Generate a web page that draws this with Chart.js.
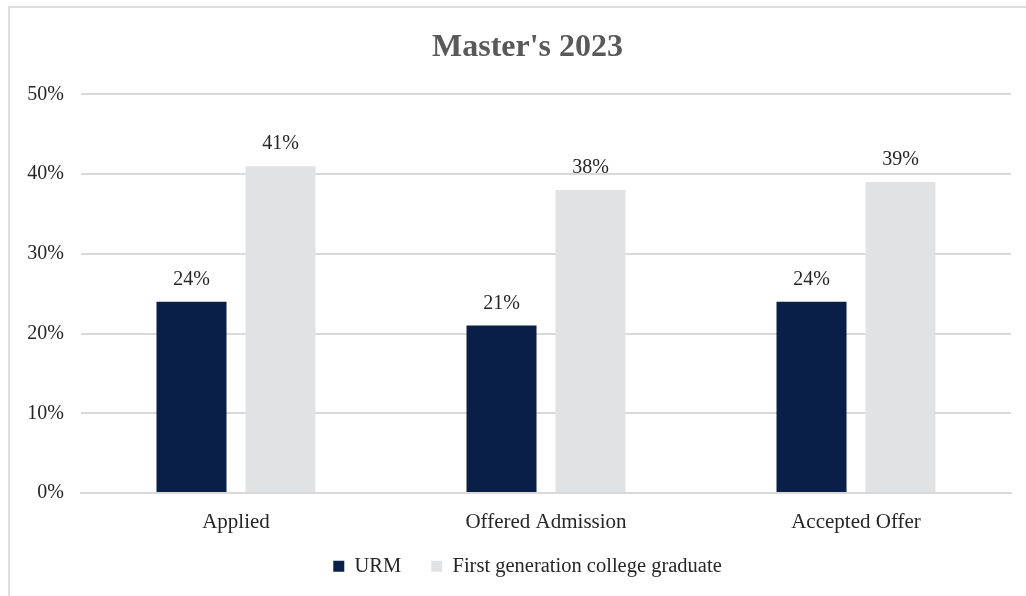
<!DOCTYPE html>
<html>
<head>
<meta charset="utf-8">
<script src="https://cdn.jsdelivr.net/npm/chart.js@4"></script>
<style>
  html, body { margin: 0; padding: 0; background: #fff; }
  #frame { position: absolute; left: 8px; top: 6px; width: 1030px; height: 600px; border: 2px solid #dedede; box-sizing: border-box; }
  #wrap { position: absolute; left: 0; top: 0; width: 1026px; height: 596px; }
</style>
</head>
<body>
<div id="frame"></div>
<div id="wrap"><canvas id="grafik" width="1026" height="596"></canvas></div>
<script>
// Kategoriler ve seriler
const kategoriler = ["Applied", "Offered Admission", "Accepted Offer"];
const urmDegerleri = [24, 21, 24];
const ilkNesilDegerleri = [41, 38, 39];
const yEksenTikleri = [0, 10, 20, 30, 40, 50];

const serifFont = "'Liberation Serif', 'DejaVu Serif', serif";

// Çubukların üstüne yüzde etiketi yazan küçük eklenti
const degerEtiketleri = {
  id: "degerEtiketleri",
  afterDatasetsDraw(chart) {
    const ctx = chart.ctx;
    ctx.save();
    ctx.font = "20px " + serifFont;
    ctx.fillStyle = "#262626";
    ctx.textAlign = "center";
    ctx.textBaseline = "middle";
    chart.data.datasets.forEach((ds, i) => {
      chart.getDatasetMeta(i).data.forEach((bar, j) => {
        ctx.fillText(ds.data[j] + "%", bar.x, bar.y - 22);
      });
    });
    ctx.restore();
  },
};

// Başlık ve lejantı biraz sağa al, lejant yüksekliğini sabitle
const yerlesim = {
  id: "yerlesim",
  beforeLayout(chart) {
    const lg = chart.legend;
    if (lg && !lg._sabitlendi) {
      const eskiFit = lg.fit;
      lg.fit = function () {
        eskiFit.call(this);
        if (this.isHorizontal()) this.height = 49;
      };
      lg._sabitlendi = true;
    }
  },
  afterLayout(chart) {
    const kayma = 22;
    [chart.titleBlock, chart.legend].forEach((b) => {
      if (!b) return;
      b.left += kayma;
      b.right += kayma;
    });
    if (chart.legend) {
      chart.legend.top -= 11;
    }
  },
};

new Chart(document.getElementById("grafik").getContext("2d"), {
  type: "bar",
  data: {
    labels: kategoriler,
    datasets: [
      {
        label: "URM",
        data: urmDegerleri,
        backgroundColor: "#0a1f47",
      },
      {
        label: "First generation college graduate",
        data: ilkNesilDegerleri,
        backgroundColor: "#e1e2e4",
      },
    ],
  },
  options: {
    responsive: false,
    animation: false,
    categoryPercentage: 0.574,
    barPercentage: 0.787,
    layout: { padding: { left: 0, right: 15, top: 0, bottom: 10 } },
    plugins: {
      title: {
        display: true,
        text: "Master's 2023",
        color: "#595959",
        font: { family: serifFont, size: 32, weight: "bold" },
        padding: { top: 29, bottom: 27 },
      },
      legend: {
        position: "bottom",
        labels: {
          color: "#262626",
          font: { family: serifFont, size: 20.5 },
          boxWidth: 11,
          boxHeight: 11,
          padding: 30,
        },
      },
      tooltip: { enabled: false },
    },
    scales: {
      x: {
        afterFit: (s) => { s.height = 44; },
        grid: { display: false },
        border: { color: "#d9d9d9", width: 2 },
        ticks: { color: "#262626", font: { family: serifFont, size: 21 }, padding: 9 },
      },
      y: {
        min: 0,
        max: 50,
        afterFit: (s) => { s.width = 81; },
        afterBuildTicks: (s) => { s.ticks = yEksenTikleri.map((v) => ({ value: v })); },
        grid: { color: "#d9d9d9", lineWidth: 2, drawTicks: false },
        border: { display: false },
        ticks: {
          color: "#262626",
          font: { family: serifFont, size: 20 },
          padding: 17,
          callback: (v) => v + "%",
        },
      },
    },
  },
  plugins: [degerEtiketleri, yerlesim],
});
</script>
</body>
</html>
